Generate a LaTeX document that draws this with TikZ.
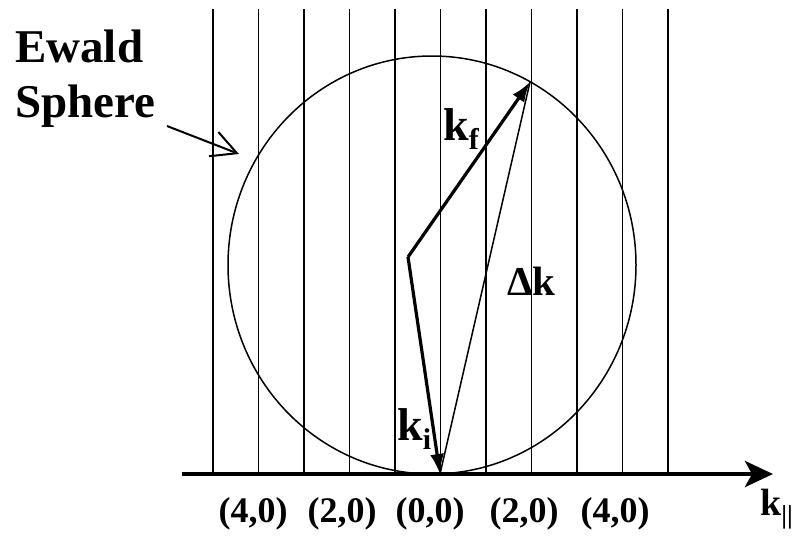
\documentclass[tikz,border=0pt]{standalone}
\usepackage{fontspec}
\setmainfont{Liberation Serif}
\usetikzlibrary{arrows.meta,shapes.geometric}
\begin{document}
\begin{tikzpicture}[x=1pt,y=-1pt,
  thinline/.style={line width=1.5pt},
  vecline/.style={line width=3.2pt,-{Latex[length=20pt,width=14pt]}},
  lbl/.style={inner sep=0pt,anchor=base west,font=\bfseries}]
\useasboundingbox (0,0) rectangle (797,538);
% reciprocal lattice rods
\foreach \i in {0,...,10}{
  \coordinate (t\i) at ({213+45.5*\i},9);
  \coordinate (b\i) at ({213+45.5*\i},474);
  \draw[thinline] (t\i) -- (b\i);
}
% Ewald sphere
\node[draw,thinline,ellipse,minimum width=408pt,minimum height=418pt,inner sep=0pt] (sphere) at (432,265) {};
% key points
\coordinate (C) at (408,257);
\coordinate (O) at (440,474);
\coordinate (T) at (530,82);
\coordinate (A0) at (182,474);
\coordinate (A1) at (773,474);
% Delta k
\draw[thinline] (O) -- (T);
% k_i and k_f
\draw[vecline] (C) -- (O);
\draw[vecline] (C) -- (T);
% axis
\draw[line width=4.5pt,-{Stealth[length=28pt,width=26pt,inset=7pt]}] (A0) -- (A1);
% Ewald label and pointer
\node[lbl,font=\bfseries\fontsize{47}{55}\selectfont] (ew) at (15,62) {Ewald};
\node[lbl,font=\bfseries\fontsize{47}{55}\selectfont] (sp) at (15,117) {Sphere};
\coordinate (P0) at (167,126);
\coordinate (P1) at (239,154);
\draw[line width=2pt,-{Straight Barb[length=25pt,width=26pt]}] (P0) -- (P1);
% vector labels
\node[lbl,font=\bfseries\fontsize{46}{46}\selectfont] (kf) at (443,140) {k\raisebox{-9pt}{\fontsize{30}{30}\selectfont f}};
\node[lbl,font=\bfseries\fontsize{41}{41}\selectfont] (dk) at (507,295) {Δk};
\node[lbl,font=\bfseries\fontsize{46}{46}\selectfont] (ki) at (397,440) {k\raisebox{-9pt}{\fontsize{30}{30}\selectfont i}};
\node[lbl,font=\bfseries\fontsize{38}{38}\selectfont] (kp) at (760,515) {k\raisebox{-8pt}{\fontsize{26}{26}\selectfont ||}};
% axis labels
\foreach \x/\t [count=\n] in {253/{(4,0)},342/{(2,0)},430/{(0,0)},524/{(2,0)},615/{(4,0)}}{
  \node[inner sep=0pt,anchor=base,font=\bfseries\fontsize{36}{36}\selectfont] (l\n) at (\x,522) {\t};
}
\end{tikzpicture}
\end{document}
